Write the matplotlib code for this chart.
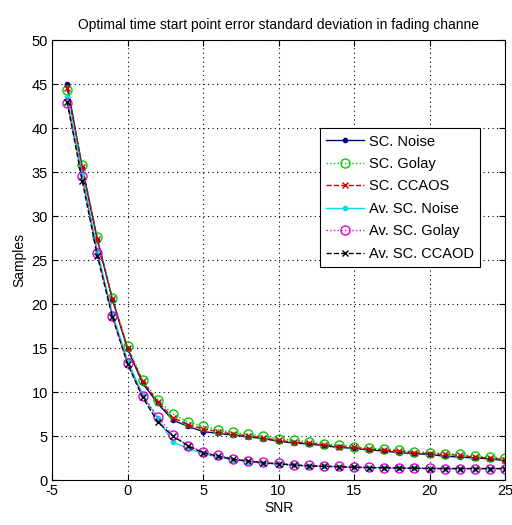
import matplotlib
matplotlib.use("Agg")
import matplotlib.pyplot as plt
import numpy as np

plt.rcParams['font.family'] = ['Liberation Sans', 'DejaVu Sans']
plt.rcParams['axes.unicode_minus'] = False

snr = list(range(-4, 26))
sc_noise = [45.0, 35.5, 27.3, 20.5, 14.9, 11.0, 8.7, 6.8, 6.1, 5.5, 5.3, 5.1, 4.9, 4.7, 4.4,
            4.2, 4.1, 3.9, 3.7, 3.6, 3.4, 3.3, 3.1, 3.0, 2.9, 2.7, 2.6, 2.5, 2.4, 2.2]
sc_golay = [44.3, 35.8, 27.6, 20.7, 15.2, 11.4, 9.1, 7.5, 6.6, 6.1, 5.7, 5.4, 5.2, 5.0, 4.7,
            4.5, 4.3, 4.1, 4.0, 3.8, 3.6, 3.5, 3.4, 3.2, 3.1, 3.0, 2.9, 2.7, 2.6, 2.5]
sc_ccaos = [44.5, 35.6, 27.4, 20.6, 15.0, 11.2, 8.9, 7.1, 6.3, 5.8, 5.5, 5.2, 5.0, 4.8, 4.5,
            4.3, 4.2, 4.0, 3.8, 3.7, 3.5, 3.4, 3.3, 3.1, 3.0, 2.9, 2.8, 2.6, 2.5, 2.3]
av_noise = [43.5, 34.8, 26.0, 18.9, 13.6, 9.7, 7.0, 4.3, 3.6, 3.0, 2.6, 2.3, 2.1, 1.9, 1.8,
            1.7, 1.6, 1.55, 1.5, 1.45, 1.4, 1.4, 1.35, 1.35, 1.3, 1.3, 1.3, 1.3, 1.3, 1.3]
av_golay = [42.8, 34.5, 25.8, 18.6, 13.3, 9.5, 7.2, 5.1, 3.9, 3.2, 2.8, 2.4, 2.2, 2.0, 1.9,
            1.7, 1.65, 1.6, 1.55, 1.5, 1.45, 1.4, 1.4, 1.35, 1.35, 1.3, 1.3, 1.3, 1.3, 1.3]
av_ccaod = [43.0, 34.0, 25.5, 18.5, 13.2, 9.4, 6.6, 5.0, 3.9, 3.1, 2.7, 2.35, 2.15, 1.95, 1.85,
            1.7, 1.6, 1.55, 1.5, 1.45, 1.4, 1.4, 1.35, 1.35, 1.3, 1.3, 1.3, 1.3, 1.3, 1.3]

labels = ['SC. Noise', 'SC. Golay', 'SC. CCAOS', 'Av. SC. Noise', 'Av. SC. Golay', 'Av. SC. CCAOD']
title = 'Optimal time start point error standard deviation in fading channe'

fig = plt.figure(figsize=(5.12, 5.25), dpi=100)
ax = fig.add_axes([0.1016, 0.0857, 0.8848, 0.8381])

ax.plot(snr, sc_noise, color='#00008b', linestyle='-', marker='.', markersize=6, lw=1.0, label=labels[0])
ax.plot(snr, sc_golay, color='#00cc00', linestyle=':', marker='o', markersize=6.5, mfc='none', lw=1.0, label=labels[1])
ax.plot(snr, sc_ccaos, color='#cc0000', linestyle='--', marker='x', markersize=5, lw=1.0, label=labels[2])
ax.plot(snr, av_noise, color='#00e0e0', linestyle='-', marker='.', markersize=6, lw=1.0, label=labels[3])
ax.plot(snr, av_golay, color='#dd00dd', linestyle=':', marker='o', markersize=6.5, mfc='none', lw=1.0, label=labels[4])
ax.plot(snr, av_ccaod, color='#000000', linestyle='--', marker='x', markersize=5, lw=1.0, label=labels[5])

ax.set_xlim(-5, 25)
ax.set_ylim(0, 50)
ax.set_xticks(range(-5, 26, 5))
ax.set_yticks(range(0, 51, 5))
ax.grid(True, color='black', linestyle=(0, (1, 3)), linewidth=0.8)
ax.tick_params(direction='in', top=True, right=True, labelsize=10.5, length=4, pad=3)
for s in ax.spines.values():
    s.set_linewidth(0.8)
ax.set_xlabel('SNR', fontsize=10, labelpad=2)
ax.set_ylabel('Samples', fontsize=10, labelpad=4)
ax.set_title(title, fontsize=10, pad=8)

leg = ax.legend(loc='upper right', bbox_to_anchor=(0.945, 0.80), borderaxespad=0, fontsize=10.5,
                fancybox=False, framealpha=1, edgecolor='black', borderpad=0.45,
                labelspacing=0.58, handlelength=2.6, handletextpad=0.3)
leg.get_frame().set_linewidth(0.8)

fig.savefig('out.png', dpi=100)
